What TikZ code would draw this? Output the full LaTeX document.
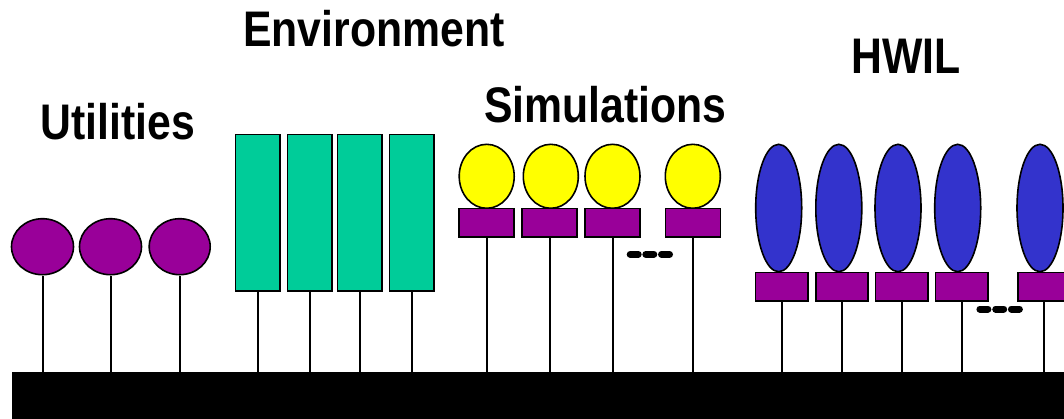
\documentclass[tikz,border=0pt]{standalone}
\usepackage{fontspec}
\setmainfont{Liberation Sans}
\newfontfamily\narrowfont[FakeStretch=0.855]{Liberation Sans Bold}
\usetikzlibrary{shapes.geometric}
\definecolor{utilpurple}{HTML}{990099}
\definecolor{envteal}{HTML}{00CC99}
\definecolor{simyellow}{HTML}{FFFF00}
\definecolor{hwblue}{HTML}{3333CC}
\begin{document}
\begin{tikzpicture}[x=1pt,y=-1pt,
  outl/.style={draw=black,line width=1.6pt,inner sep=0pt},
  utilball/.style={outl,ellipse,fill=utilpurple,minimum width=62pt,minimum height=56pt},
  envbox/.style={outl,rectangle,fill=envteal,minimum width=44.5pt,minimum height=156.4pt},
  simball/.style={outl,ellipse,fill=simyellow,minimum width=55pt,minimum height=64pt},
  hwball/.style={outl,ellipse,fill=hwblue,minimum width=46pt,minimum height=127.4pt},
  simbase/.style={outl,rectangle,fill=utilpurple,minimum width=55pt,minimum height=28.4pt},
  hwbase/.style={outl,rectangle,fill=utilpurple,minimum width=52.3pt,minimum height=28.4pt},
  stem/.style={draw=black,line width=2pt},
  dotdash/.style={draw=black,line width=7pt,line cap=round},
  title/.style={inner sep=0pt,anchor=base west,font=\narrowfont\fontsize{50}{52}\selectfont}]
\useasboundingbox (0,0) rectangle (1064,418);
% bus
\node[fill=black,inner sep=0pt,minimum width=1060pt,minimum height=50pt,anchor=north west] (bus) at (12,372) {};
% titles
\node[title] (tUtil) at (40.5,139.3) {Utilities};
\node[title] (tEnv) at (243,46.7) {Environment};
\node[title] (tSim) at (484,122.5) {Simulations};
\node[title] (tHW) at (851,73.3) {HWIL};
% utilities
\node[utilball] (u1) at (42.5,246.7) {};
\node[utilball] (u2) at (110.5,246.7) {};
\node[utilball,minimum width=61pt] (u3) at (179.7,246.7) {};
% environment
\node[envbox] (e1) at (257.8,212.5) {};
\node[envbox] (e2) at (309.8,212.5) {};
\node[envbox] (e3) at (359.8,212.5) {};
\node[envbox] (e4) at (411.8,212.5) {};
% simulations
\foreach \i/\x in {1/486.7,2/550.8,3/612.5,4/692.8}{
  \node[simball] (sb\i) at (\x,176.3) {};
}
\node[simbase] (sr1) at (486.7,222.5) {};
\node[simbase] (sr2) at (549.7,222.5) {};
\node[simbase] (sr3) at (612.5,222.5) {};
\node[simbase] (sr4) at (692.8,222.5) {};
% hwil
\foreach \i/\x in {1/778.7,2/838.8,3/898,4/957.7,5/1040}{
  \node[hwball] (hb\i) at (\x,208) {};
}
\node[hwbase] (hr1) at (781.8,286.5) {};
\node[hwbase] (hr2) at (842,286.5) {};
\node[hwbase] (hr3) at (901.7,286.5) {};
\node[hwbase] (hr4) at (961.8,286.5) {};
\node[hwbase] (hr5) at (1044,286.5) {};
% stems
\foreach \n in {u1,u2,u3,e1,e2,e3,e4,sr1,sr2,sr3,sr4,hr1,hr2,hr3,hr4,hr5}{
  \draw[stem] (\n.south) -- (\n.south |- bus.north);
}
% ellipsis marks
\foreach \x in {634.2,649.8,665.5}{
  \draw[dotdash] (\x-4,254.3) -- (\x+4,254.3);
}
\foreach \x in {983.9,999.7,1015.4}{
  \draw[dotdash] (\x-4,309) -- (\x+4,309);
}
\end{tikzpicture}
\end{document}
